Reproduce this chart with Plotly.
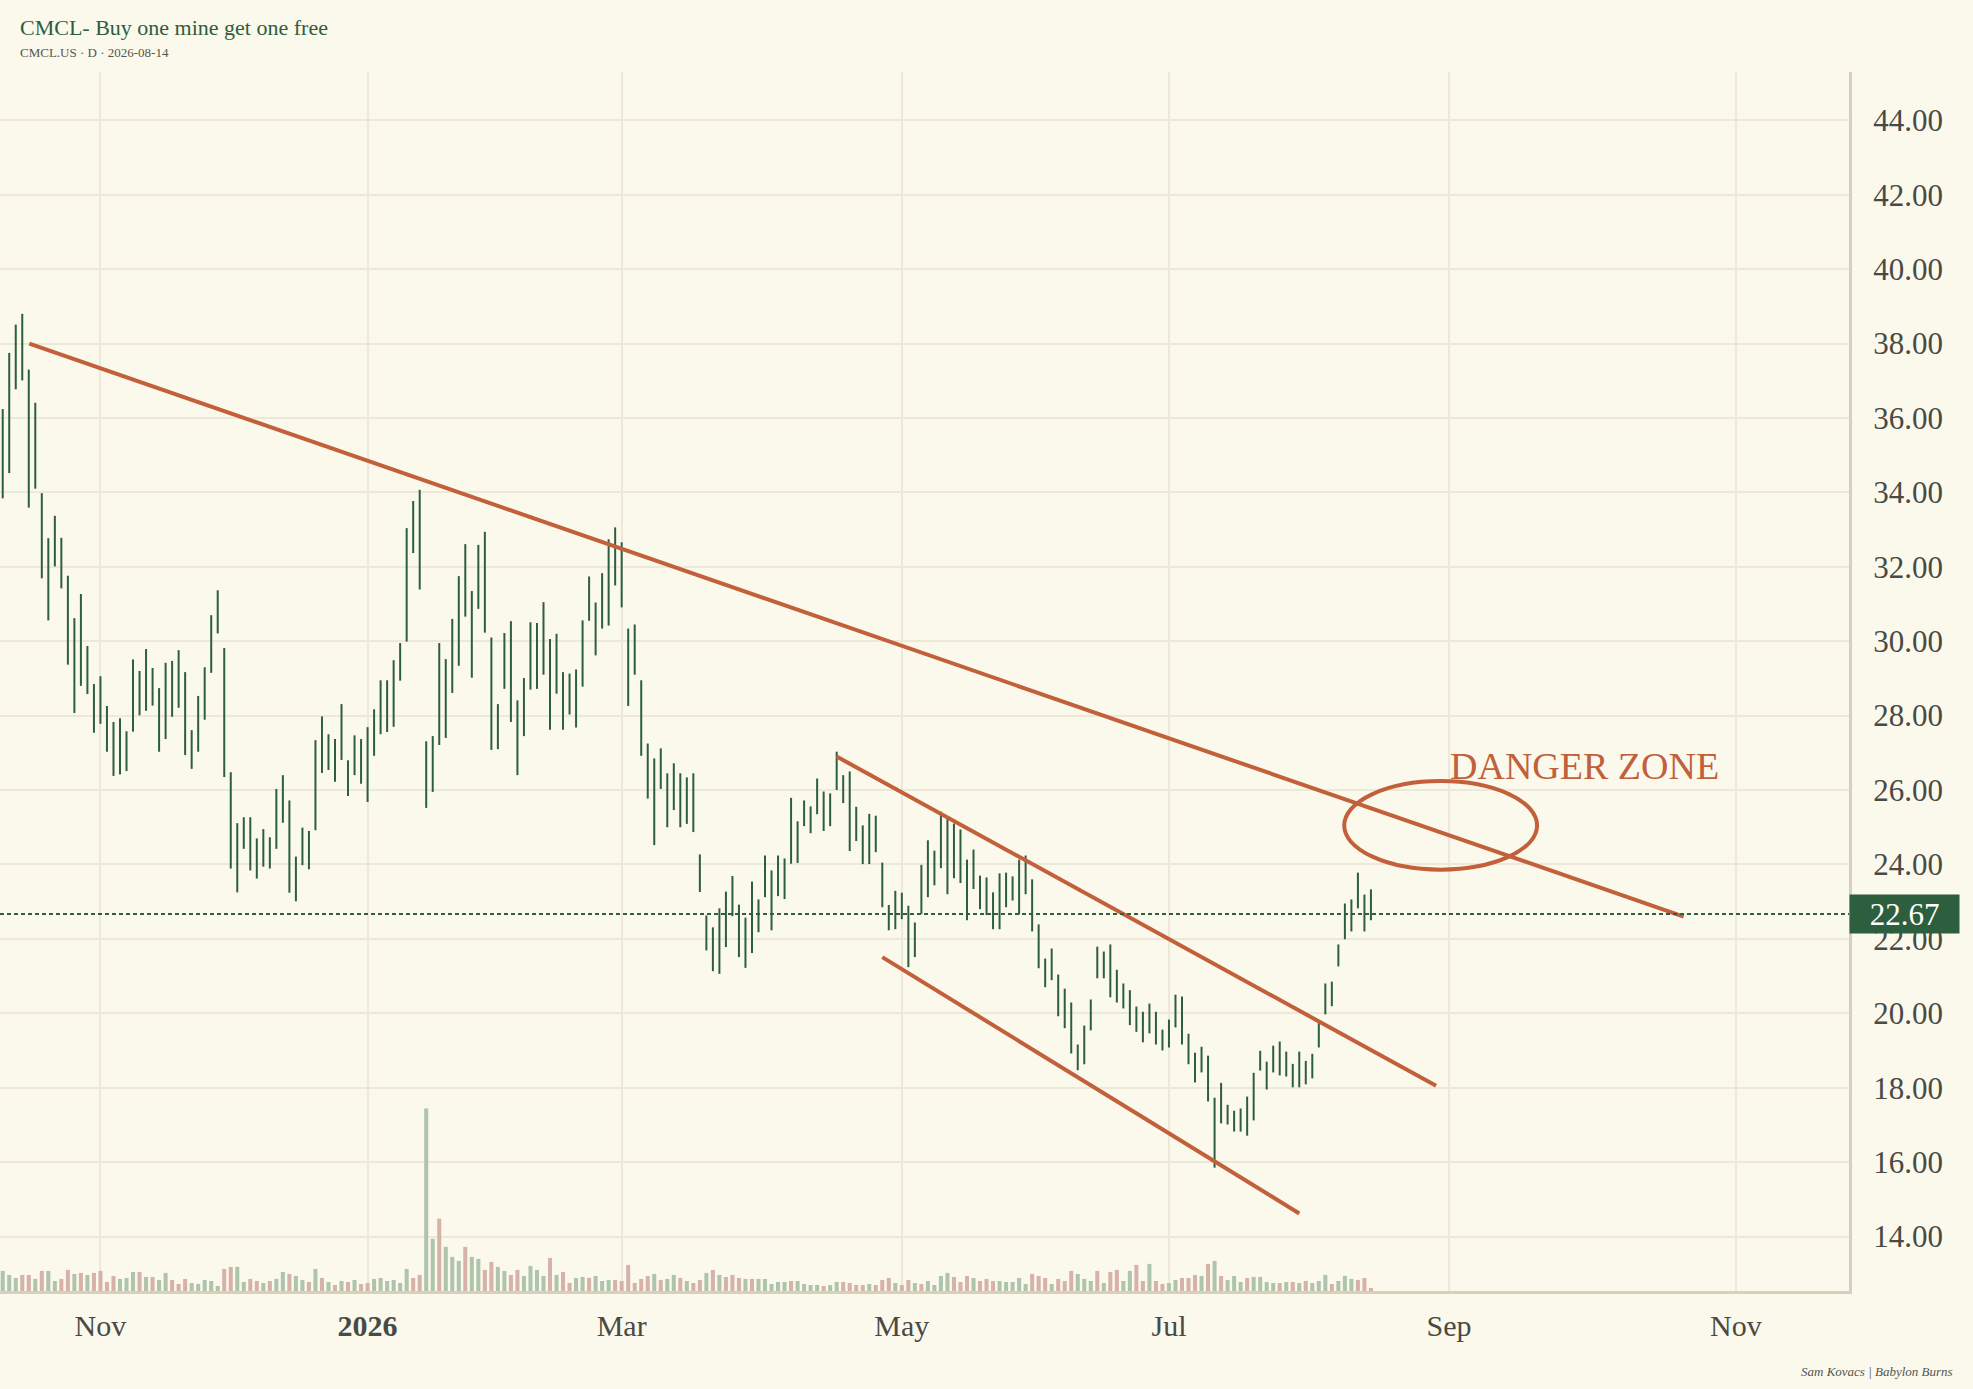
import pandas as pd
import plotly.graph_objects as go

# trading calendar (weekends + exchange holidays are skipped on the axis)
holidays = ["2025-11-27", "2025-12-25", "2026-01-01", "2026-01-19", "2026-02-16",
            "2026-04-03", "2026-05-25", "2026-06-19", "2026-07-03"]
days = pd.bdate_range("2025-10-13", "2026-08-14")
days = days[~days.isin(pd.to_datetime(holidays))] + pd.Timedelta(hours=12)

highs = [36.24, 37.75, 38.51, 38.80, 37.30, 36.41, 33.98, 32.77, 33.37, 32.78,
         31.76, 30.62, 31.27, 29.87, 28.85, 29.06, 28.26, 27.83, 27.93, 27.58,
         29.51, 29.20, 29.79, 29.28, 28.74, 29.42, 29.47, 29.76, 29.17, 27.61,
         28.53, 29.30, 30.70, 31.37, 29.82, 26.48, 25.11, 25.27, 25.27, 24.70,
         24.95, 24.73, 26.03, 26.40, 25.72, 24.21, 24.99, 24.90, 27.34, 27.98,
         27.50, 27.37, 28.31, 26.80, 27.47, 27.37, 27.69, 28.17, 28.95, 28.95,
         29.49, 29.95, 33.04, 33.77, 34.07, 27.31, 27.45, 29.95, 29.52, 30.60,
         31.75, 32.61, 31.35, 32.59, 32.94, 30.10, 28.31, 30.22, 30.54, 28.41,
         29.01, 30.51, 30.49, 31.05, 30.06, 30.20, 29.17, 29.13, 29.24, 30.56,
         31.74, 31.04, 31.83, 32.74, 33.06, 32.66, 30.34, 30.45, 28.95, 27.25,
         26.85, 27.12, 26.45, 26.72, 26.45, 26.34, 26.45, 24.27, 22.63, 22.31,
         22.82, 23.27, 23.69, 22.92, 22.57, 23.54, 23.06, 24.24, 23.84, 24.24,
         24.16, 25.79, 25.16, 25.72, 25.56, 26.31, 25.96, 25.91, 27.03, 26.40,
         26.50, 25.55, 25.05, 25.36, 25.31, 24.05, 22.91, 23.29, 23.24, 22.89,
         22.44, 23.99, 24.65, 24.37, 25.42, 25.23, 25.10, 24.94, 24.13, 24.40,
         23.70, 23.65, 23.25, 23.76, 23.78, 23.68, 24.13, 24.24, 23.60, 22.39,
         21.47, 21.74, 21.04, 20.66, 20.29, 19.16, 19.67, 20.37, 21.79, 21.66,
         21.85, 21.17, 20.80, 20.62, 20.18, 20.04, 20.26, 20.04, 19.56, 19.83,
         20.50, 20.45, 19.45, 18.94, 19.10, 18.86, 17.73, 18.13, 17.54, 17.38,
         17.44, 17.76, 18.40, 18.99, 18.70, 19.13, 19.24, 18.97, 18.64, 18.97,
         18.72, 18.91, 19.76, 20.80, 20.85, 21.85, 22.95, 23.06, 23.78, 23.19,
         23.33]
lows = [33.84, 34.52, 36.77, 37.01, 33.59, 34.10, 31.69, 30.56, 32.01, 31.42,
        29.37, 28.07, 28.80, 28.58, 27.54, 27.78, 27.03, 26.38, 26.42, 26.51,
        27.57, 28.01, 28.13, 28.27, 27.03, 27.37, 27.97, 28.21, 26.94, 26.57,
        27.03, 27.89, 29.15, 30.21, 26.35, 23.89, 23.25, 24.42, 23.84, 23.62,
        23.94, 23.89, 24.42, 25.12, 23.24, 23.01, 23.98, 23.87, 24.92, 26.46,
        26.54, 26.22, 26.81, 25.84, 26.40, 26.17, 25.68, 26.92, 27.50, 27.56,
        27.70, 28.94, 29.99, 32.37, 31.39, 25.52, 25.95, 27.21, 27.40, 28.61,
        29.34, 30.66, 29.02, 30.87, 30.23, 27.08, 27.10, 28.72, 27.83, 26.40,
        27.45, 28.70, 28.72, 29.10, 27.62, 28.59, 27.62, 28.03, 27.68, 28.78,
        30.55, 29.62, 30.34, 30.42, 31.50, 30.91, 28.26, 29.10, 26.92, 25.77,
        24.52, 26.03, 25.00, 25.46, 25.00, 25.09, 24.87, 23.26, 21.69, 21.13,
        21.06, 21.78, 22.61, 21.51, 21.22, 21.62, 22.18, 23.12, 22.23, 23.15,
        23.07, 24.02, 24.04, 25.03, 24.84, 25.35, 24.90, 25.03, 26.00, 25.65,
        24.36, 24.63, 24.01, 24.01, 24.33, 22.85, 22.23, 22.26, 22.53, 21.24,
        21.51, 22.67, 23.12, 23.44, 23.90, 23.20, 23.63, 23.50, 22.50, 23.34,
        22.80, 22.64, 22.26, 22.26, 22.85, 23.03, 22.66, 23.20, 22.20, 21.21,
        20.70, 20.89, 19.92, 19.60, 18.92, 18.47, 18.63, 19.54, 20.94, 20.94,
        20.43, 20.29, 20.13, 19.68, 19.50, 19.22, 19.46, 19.16, 19.00, 19.08,
        19.62, 19.16, 18.63, 18.14, 18.41, 17.63, 15.85, 17.04, 17.01, 16.82,
        16.82, 16.71, 17.12, 18.46, 17.95, 18.41, 18.33, 18.30, 18.01, 18.01,
        18.09, 18.25, 19.08, 19.97, 20.19, 21.26, 21.99, 22.20, 22.82, 22.20,
        22.50]
last_close = 22.67

# volume (relative units) and direction of each day: u = up, d = down
volumes = [60, 48, 39, 48, 48, 36, 60, 60, 30, 36, 63, 51, 54, 48, 54, 60, 27, 45, 36, 39,
           57, 57, 42, 42, 33, 54, 33, 21, 36, 24, 21, 33, 30, 15, 66, 72, 72, 27, 36, 30,
           24, 30, 36, 57, 51, 45, 33, 27, 66, 39, 27, 18, 30, 27, 33, 21, 24, 36, 39, 30,
           33, 24, 66, 39, 48, 546, 156, 216, 132, 102, 90, 132, 102, 96, 63, 87, 72, 60, 48, 63,
           45, 75, 63, 45, 99, 48, 57, 24, 39, 42, 39, 45, 30, 33, 33, 30, 78, 24, 36, 45,
           51, 33, 36, 48, 39, 30, 24, 33, 54, 63, 48, 42, 48, 39, 36, 36, 36, 36, 21, 27,
           27, 30, 30, 21, 18, 18, 15, 18, 27, 27, 24, 18, 18, 21, 18, 33, 39, 24, 18, 33,
           24, 21, 30, 18, 45, 54, 42, 27, 45, 39, 30, 36, 30, 30, 27, 27, 39, 21, 51, 45,
           39, 21, 36, 30, 60, 51, 36, 30, 60, 24, 57, 63, 30, 60, 78, 30, 81, 30, 21, 24,
           33, 39, 39, 48, 45, 81, 90, 45, 33, 45, 27, 39, 42, 42, 27, 24, 24, 27, 27, 24,
           30, 24, 30, 48, 21, 30, 45, 36, 33, 39, 9]
vol_dir = "".join([
    "uuudduduud", "dududddduu", "ududuudddu", "uuuudduudd", "uduuduudud",
    "udududduuu", "uuudduuduu", "uduudduudd", "uuuududduu", "duuudddddd",
    "uduududdud", "uddduduuuu", "uduuuuduud", "dddudddudd", "uduuuudddu",
    "ddduuuuudd", "duddduuudu", "dduudduddu", "udddududuu", "uduuuududu",
    "duuuduuuddd",
])

tick_dates = ["2025-11-03 12:00", "2026-01-02 12:00", "2026-03-02 12:00", "2026-05-01 12:00",
              "2026-07-01 12:00", "2026-09-01 12:00", "2026-11-02 12:00"]
tick_labels = ["Nov", "<b>2026</b>", "Mar", "May", "Jul", "Sep", "Nov"]
price_ticks = list(range(14, 46, 2))

# hand-drawn trend lines (start, end)
trend_lines = [
    (["2025-10-17 14:00", "2026-10-21 12:00"], [38.0, 22.6]),
    (["2026-04-17 12:00", "2026-08-28 12:00"], [26.9, 18.05]),
    (["2026-04-28 12:00", "2026-07-30 12:00"], [21.51, 14.62]),
]
zone_x = ["2026-08-10 09:36", "2026-09-21 00:00"]
zone_y = [23.86, 26.24]

BG = "#fbf8ec"
GREEN = "#2d5e3e"
ORANGE = "#c1603a"
GRID = "#ede8d7"
AXIS = "#d8d0b9"
TXT = "#4a4a44"
FONT = "Liberation Serif"

fig = go.Figure()

# volume
fig.add_trace(go.Bar(
    x=days, y=volumes, yaxis="y2",
    marker=dict(color=["#afc4ad" if c == "u" else "#d6b2a8" for c in vol_dir], line_width=0),
    width=0.62 * 86400000,
    hoverinfo="skip",
))

# high-low bars
xs, ys = [], []
for d, lo, hi in zip(days, lows, highs):
    xs += [d, d, None]
    ys += [lo, hi, None]
fig.add_trace(go.Scatter(x=xs, y=ys, mode="lines", line=dict(color=GREEN, width=2),
                         hoverinfo="skip"))

for tx, ty in trend_lines:
    fig.add_trace(go.Scatter(x=tx, y=ty, mode="lines", line=dict(color=ORANGE, width=4),
                             hoverinfo="skip"))

fig.add_shape(type="circle", xref="x", yref="y", x0=zone_x[0], x1=zone_x[1],
              y0=zone_y[0], y1=zone_y[1], line=dict(color=ORANGE, width=4))
fig.add_shape(type="line", xref="paper", yref="y", x0=0, x1=1, y0=last_close, y1=last_close,
              line=dict(color=GREEN, width=2, dash="4px,3px"))

fig.add_annotation(xref="paper", yref="y", x=0.857, y=26.64, text="DANGER ZONE",
                   showarrow=False, xanchor="center", yanchor="middle",
                   font=dict(family=FONT, size=38, color=ORANGE))
fig.add_annotation(xref="paper", yref="y", x=1, y=last_close, text=f"{last_close:.2f}",
                   showarrow=False, xanchor="left", yanchor="middle",
                   bgcolor=GREEN, width=101, height=30, borderpad=4,
                   font=dict(family=FONT, size=31, color="white"))
fig.add_annotation(xref="paper", yref="paper", x=0.0097, y=1.0369,
                   text="CMCL- Buy one mine get one free", showarrow=False,
                   xanchor="left", yanchor="middle", font=dict(family=FONT, size=22, color=GREEN))
fig.add_annotation(xref="paper", yref="paper", x=0.0097, y=1.0164,
                   text="CMCL.US · D · 2026-08-14", showarrow=False,
                   xanchor="left", yanchor="middle", font=dict(family=FONT, size=13, color="#55554f"))
fig.add_annotation(xref="paper", yref="paper", x=1.0574, y=-0.0664,
                   text="<i>Sam Kovacs | Babylon Burns</i>", showarrow=False,
                   xanchor="right", yanchor="middle", font=dict(family=FONT, size=13, color="#55554f"))

fig.update_layout(
    width=1973, height=1389,
    paper_bgcolor=BG, plot_bgcolor=BG,
    margin=dict(l=0, r=124, t=72, b=98),
    showlegend=False,
    xaxis=dict(
        type="date",
        range=["2025-10-13 02:00", "2026-11-25 21:00"],
        rangebreaks=[dict(bounds=["sat", "mon"]), dict(values=holidays)],
        tickvals=tick_dates, ticktext=tick_labels,
        showgrid=True, gridcolor=GRID, gridwidth=1.5,
        showline=True, linecolor=AXIS, linewidth=3,
        ticks="", ticklabelstandoff=6, zeroline=False,
        tickfont=dict(family=FONT, size=30, color=TXT),
    ),
    yaxis=dict(
        side="right", range=[12.535, 45.30],
        tickvals=price_ticks, tickformat=".2f",
        showgrid=True, gridcolor=GRID, gridwidth=1.5,
        showline=True, linecolor=AXIS, linewidth=3,
        ticks="", ticklabelstandoff=15, zeroline=False,
        tickfont=dict(family=FONT, size=31, color=TXT),
    ),
    yaxis2=dict(overlaying="y", range=[0, max(volumes) / 0.1498], visible=False),
)

fig.write_html("out.html", config={"displayModeBar": False},
               post_script="document.body.style.margin='0';")
